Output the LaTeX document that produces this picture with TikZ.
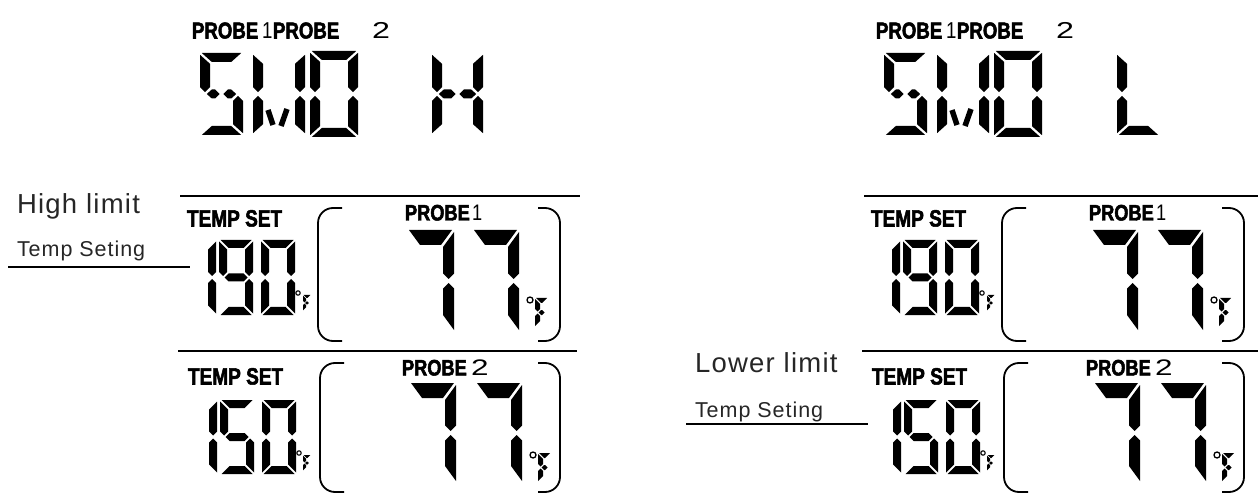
\documentclass[tikz,border=0pt]{standalone}
\usepackage{fontspec}
\setmainfont{Liberation Sans}
\newfontfamily\lcdfont{Liberation Sans}[FakeStretch=0.81, BoldFeatures={FakeBold=2.2}]
\newfontfamily\lcdtwo{Liberation Sans}[FakeStretch=1.4]
\newfontfamily\labfont{Liberation Sans}[LetterSpace=4.5]

\newcommand\lcdsega{\fill ({\lcdg},0) -- ({\lcdW-\lcdg},0) -- ({\lcdW-\lcdtv-\lcdg},{\lcdth}) -- ({\lcdtv+\lcdg},{\lcdth}) -- cycle;}
\newcommand\lcdsegb{\fill ({\lcdW},{\lcdg}) -- ({\lcdW},{\lcdh-\lcdtv/2-\lcdg}) -- ({\lcdW-\lcdtv/2},{\lcdh-\lcdg}) -- ({\lcdW-\lcdtv},{\lcdh-\lcdtv/2-\lcdg}) -- ({\lcdW-\lcdtv},{\lcdth+\lcdg}) -- cycle;}
\newcommand\lcdsegc{\fill ({\lcdW},{\lcdH-\lcdg}) -- ({\lcdW},{\lcdh+\lcdtv/2+\lcdg}) -- ({\lcdW-\lcdtv/2},{\lcdh+\lcdg}) -- ({\lcdW-\lcdtv},{\lcdh+\lcdtv/2+\lcdg}) -- ({\lcdW-\lcdtv},{\lcdH-\lcdth-\lcdg}) -- cycle;}
\newcommand\lcdsegd{\fill ({\lcdg},{\lcdH}) -- ({\lcdW-\lcdg},{\lcdH}) -- ({\lcdW-\lcdtv-\lcdg},{\lcdH-\lcdth}) -- ({\lcdtv+\lcdg},{\lcdH-\lcdth}) -- cycle;}
\newcommand\lcdsege{\fill (0,{\lcdH-\lcdg}) -- (0,{\lcdh+\lcdtv/2+\lcdg}) -- ({\lcdtv/2},{\lcdh+\lcdg}) -- ({\lcdtv},{\lcdh+\lcdtv/2+\lcdg}) -- ({\lcdtv},{\lcdH-\lcdth-\lcdg}) -- cycle;}
\newcommand\lcdsegf{\fill (0,{\lcdg}) -- (0,{\lcdh-\lcdtv/2-\lcdg}) -- ({\lcdtv/2},{\lcdh-\lcdg}) -- ({\lcdtv},{\lcdh-\lcdtv/2-\lcdg}) -- ({\lcdtv},{\lcdth+\lcdg}) -- cycle;}
\newcommand\lcdsegg{\fill ({\lcdtv/2+\lcdg},{\lcdh}) -- ({\lcdtv+\lcdg},{\lcdh-\lcdth/2}) -- ({\lcdW-\lcdtv-\lcdg},{\lcdh-\lcdth/2}) -- ({\lcdW-\lcdtv/2-\lcdg},{\lcdh}) -- ({\lcdW-\lcdtv-\lcdg},{\lcdh+\lcdth/2}) -- ({\lcdtv+\lcdg},{\lcdh+\lcdth/2}) -- cycle;}
\newcommand\lcdsegl{\fill ({\lcdtv/2+\lcdg},{\lcdh}) -- ({\lcdtv+\lcdg},{\lcdh-\lcdth/2}) -- ({\lcdW/2-\lcdg-\lcdth/2},{\lcdh-\lcdth/2}) -- ({\lcdW/2-\lcdg},{\lcdh}) -- ({\lcdW/2-\lcdg-\lcdth/2},{\lcdh+\lcdth/2}) -- ({\lcdtv+\lcdg},{\lcdh+\lcdth/2}) -- cycle;}
\newcommand\lcdsegr{\fill ({\lcdW/2+\lcdg},{\lcdh}) -- ({\lcdW/2+\lcdg+\lcdth/2},{\lcdh-\lcdth/2}) -- ({\lcdW-\lcdtv-\lcdg},{\lcdh-\lcdth/2}) -- ({\lcdW-\lcdtv/2-\lcdg},{\lcdh}) -- ({\lcdW-\lcdtv-\lcdg},{\lcdh+\lcdth/2}) -- ({\lcdW/2+\lcdg+\lcdth/2},{\lcdh+\lcdth/2}) -- cycle;}

% [gap]{x0}{y0}{W}{H}{vertical thickness}{horizontal thickness}{segments}
\newcommand\lcddigit[8][1.5]{%
  \begin{scope}[shift={(#2,#3)}]
    \def\lcdg{#1}\def\lcdW{#4}\def\lcdH{#5}\def\lcdtv{#6}\def\lcdth{#7}%
    \pgfmathsetmacro\lcdh{#5/2}%
    \foreach \lcds in {#8}{\csname lcdseg\lcds\endcsname}%
  \end{scope}}

\newcommand\lcdframe[4]{%
  \draw[frameline] (#1+24,#2) -- (#1,#2) -- (#1,#4) -- (#1+24,#4);
  \draw[frameline] (#3-22,#2) -- (#3,#2) -- (#3,#4) -- (#3-22,#4);}

\newcommand\lcdpanel[2]{% #1 shift, #2 name prefix
  \begin{scope}[shift={(#1,0)}]
    \draw[rule] (180,196) -- (580,196);
    \draw[rule] (178,351) -- (577,351);
    \node[lcdtxt, font=\lcdfont\bfseries\fontsize{23.5}{23.5}\selectfont] (#2ts1) at (187,226.5) {TEMP SET};
    \node[lcdtxt, font=\lcdfont\bfseries\fontsize{23.5}{23.5}\selectfont] (#2ts2) at (188,384.5) {TEMP SET};
    % 190
    \lcddigit{182}{240}{34}{75}{8}{8}{b,c}
    \lcddigit{219}{240}{34}{75}{8}{8}{a,b,c,d,f,g}
    \lcddigit{261}{240}{34}{75}{8}{8}{a,b,c,d,e,f}
    \draw[line width=1.1] (298,293) circle (2.2);
    \lcddigit[0.7]{303}{295}{8}{16}{3}{3}{a,f,e,g}
    % 150
    \lcddigit{183}{400}{34}{74}{8}{8}{b,c}
    \lcddigit{220}{400}{34}{74}{8}{8}{a,f,g,c,d}
    \lcddigit{262}{400}{34}{74}{8}{8}{a,b,c,d,e,f}
    \draw[line width=1.1] (299,453) circle (2.2);
    \lcddigit[0.7]{303}{455}{8}{16}{3}{3}{a,f,e,g}
    % frames
    \lcdframe{318}{208}{560}{341}
    \lcdframe{320}{363}{560}{492}
    \node[lcdtxt, font=\lcdfont\bfseries\fontsize{22.5}{22.5}\selectfont] (#2pa) at (405,220.5) {PROBE};
    \node[lcdtxt, font=\lcdfont\fontsize{22.5}{22.5}\selectfont] (#2pa1) at (472,220.5) {1};
    \node[lcdtxt, font=\lcdfont\bfseries\fontsize{22.5}{22.5}\selectfont] (#2pb) at (402,375.5) {PROBE};
    \node[lcdtxt, font=\lcdtwo\fontsize{22.5}{22.5}\selectfont] (#2pb2) at (471,375.5) {2};
    % 77 (probe 1)
    \lcddigit[2]{407}{230}{47}{102}{11}{15}{a,b,c}
    \lcddigit[2]{472}{230}{47}{102}{11}{15}{a,b,c}
    \draw[line width=1.3] (530,300) circle (3);
    \lcddigit[1]{535}{298}{13}{29}{5}{5}{a,f,e,g}
    % 77 (probe 2)
    \lcddigit[2]{409}{383}{47}{100}{11}{15}{a,b,c}
    \lcddigit[2]{475}{383}{47}{100}{11}{15}{a,b,c}
    \draw[line width=1.3] (533,455) circle (3);
    \lcddigit[1]{538}{453}{13}{29}{5}{5}{a,f,e,g}
    % header
    \node[lcdtxt, font=\lcdfont\bfseries\fontsize{23}{23}\selectfont] (#2ha) at (192,38.5) {PROBE};
    \node[lcdtxt, font=\lcdfont\fontsize{23}{23}\selectfont] (#2hb) at (262,38.5) {1};
    \node[lcdtxt, font=\lcdfont\bfseries\fontsize{23}{23}\selectfont] (#2hc) at (273,38.5) {PROBE};
    \node[lcdtxt, font=\lcdtwo\fontsize{23}{23}\selectfont] (#2hd) at (372,38.5) {2};
    % S M O
    \lcddigit[1.8]{200}{53}{43}{82}{10}{9}{a,f,l,r,c,d}
    \lcddigit[1.8]{253}{53}{52}{82}{10}{9}{f,e,b,c}
    \draw[line width=5.5] (268,110) -- (273,125);
    \draw[line width=5.5] (287,109) -- (281,126);
    \lcddigit[1.8]{310}{51}{48}{86}{10}{9}{a,b,c,d,e,f}
  \end{scope}}

\begin{document}
\begin{tikzpicture}[x=1pt,y=-1pt,
  rule/.style={line width=1.8},
  frameline/.style={line width=1.8, rounded corners=15},
  lcdtxt/.style={anchor=base west, inner sep=0pt, outer sep=0pt},
  labtxt/.style={anchor=base west, inner sep=0pt, outer sep=0pt, text=black!85},
  uline/.style={line width=1.3}]
  \useasboundingbox (0,0) rectangle (1258,494);
  \lcdpanel{0}{L}
  \lcdpanel{684}{R}
  % H and L
  \lcddigit[1.8]{432}{53}{51}{82}{10}{9}{f,e,b,c,l,r}
  \lcddigit[1.8]{1117}{53}{43}{82}{10}{9}{f,e,d}
  % labels
  \node[labtxt, font=\labfont\fontsize{27.5}{27.5}\selectfont] (hl) at (17,214) {High limit};
  \node[labtxt, font=\labfont\fontsize{21.5}{21.5}\selectfont] (ts1) at (17,257) {Temp Seting};
  \coordinate (u1a) at (8,267);
  \coordinate (u1b) at (190,267);
  \draw[uline] (u1a) -- (u1b);
  \node[labtxt, font=\labfont\fontsize{27.5}{27.5}\selectfont] (ll) at (695,372) {Lower limit};
  \node[labtxt, font=\labfont\fontsize{21.5}{21.5}\selectfont] (ts2) at (695,417) {Temp Seting};
  \coordinate (u2a) at (686,424);
  \coordinate (u2b) at (868,424);
  \draw[uline] (u2a) -- (u2b);
\end{tikzpicture}
\end{document}
